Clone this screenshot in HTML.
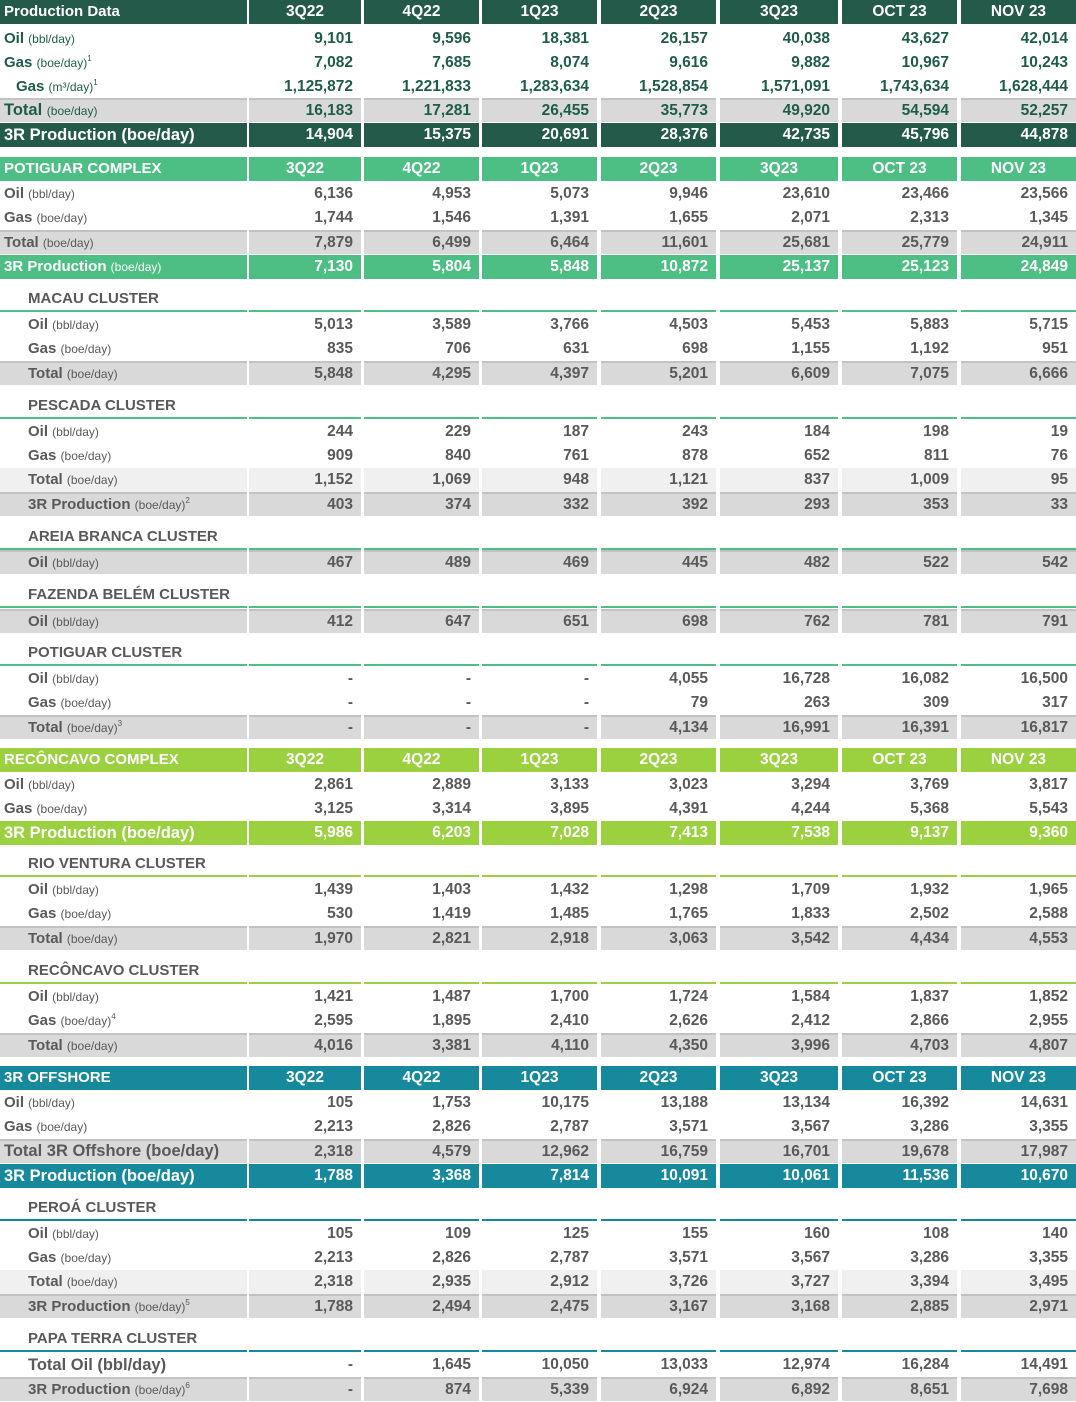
<!DOCTYPE html>
<html><head><meta charset="utf-8"><style>
body{margin:0;width:1076px;height:1402px;background:#fff;font-family:"Liberation Sans",sans-serif;position:relative;overflow:hidden}
.r{position:absolute;left:0;width:1076px;height:24px;display:grid;grid-template-columns:247px 2px 112px 3px 115px 3px 115px 4px 115px 4px 118px 4px 115px 4px 115px;color:#595959;font-weight:bold;font-size:15.5px}
.r>div{line-height:24px;height:24px;box-sizing:border-box;text-align:right;padding-right:8px;white-space:nowrap;overflow:hidden}
.r>div:nth-child(1){grid-column:1;text-align:left;padding-left:4px;font-size:15px}
.r>div:nth-child(2){grid-column:3}.r>div:nth-child(3){grid-column:5}.r>div:nth-child(4){grid-column:7}
.r>div:nth-child(5){grid-column:9}.r>div:nth-child(6){grid-column:11}.r>div:nth-child(7){grid-column:13}.r>div:nth-child(8){grid-column:15}
.r small{font-size:12px;font-weight:normal}
.r sup{font-size:8px;font-weight:normal;line-height:0;vertical-align:6px}
.r.i>div:nth-child(1){padding-left:28px}
.dk{color:#1e5c4a}
.h>div{color:#fff;text-align:center;padding-right:0}
.r.h>div:nth-child(1){text-align:left}
.hd>div{background:#245a4a}.hg>div{background:#4dbf85}.hl>div{background:#9bd03f}.ht>div{background:#168a9c}
.g>div{background:#d9d9d9;border-top:2px solid #c2c2c2;line-height:21px}
.lg>div{background:#f0f0f0}
.r.big>div:nth-child(1){font-size:16.5px}
.t>div{border-bottom:2px solid #4dbf85;line-height:22px}
.r.t>div:nth-child(1){padding-left:28px}
.t.l>div{border-bottom-color:#9bd03f}.t.c>div{border-bottom-color:#168a9c}
.w>div{color:#fff}
</style></head><body>

<div class="r h hd" style="top:0"><div>Production Data</div><div>3Q22</div><div>4Q22</div><div>1Q23</div><div>2Q23</div><div>3Q23</div><div>OCT 23</div><div>NOV 23</div></div>
<div class="r dk" style="top:27px"><div>Oil <small>(bbl/day)</small></div><div>9,101</div><div>9,596</div><div>18,381</div><div>26,157</div><div>40,038</div><div>43,627</div><div>42,014</div></div>
<div class="r dk" style="top:51px"><div>Gas <small>(boe/day)<sup>1</sup></small></div><div>7,082</div><div>7,685</div><div>8,074</div><div>9,616</div><div>9,882</div><div>10,967</div><div>10,243</div></div>
<div class="r dk" style="top:75px"><div style="padding-left:16px">Gas <small>(m³/day)<sup>1</sup></small></div><div>1,125,872</div><div>1,221,833</div><div>1,283,634</div><div>1,528,854</div><div>1,571,091</div><div>1,743,634</div><div>1,628,444</div></div>
<div class="r dk g big" style="top:98px"><div>Total <small>(boe/day)</small></div><div>16,183</div><div>17,281</div><div>26,455</div><div>35,773</div><div>49,920</div><div>54,594</div><div>52,257</div></div>
<div class="r hd w big" style="top:123px"><div>3R Production (boe/day)</div><div>14,904</div><div>15,375</div><div>20,691</div><div>28,376</div><div>42,735</div><div>45,796</div><div>44,878</div></div>

<div class="r h hg" style="top:157px"><div>POTIGUAR COMPLEX</div><div>3Q22</div><div>4Q22</div><div>1Q23</div><div>2Q23</div><div>3Q23</div><div>OCT 23</div><div>NOV 23</div></div>
<div class="r" style="top:182px"><div>Oil <small>(bbl/day)</small></div><div>6,136</div><div>4,953</div><div>5,073</div><div>9,946</div><div>23,610</div><div>23,466</div><div>23,566</div></div>
<div class="r" style="top:206px"><div>Gas <small>(boe/day)</small></div><div>1,744</div><div>1,546</div><div>1,391</div><div>1,655</div><div>2,071</div><div>2,313</div><div>1,345</div></div>
<div class="r g" style="top:230px"><div>Total <small>(boe/day)</small></div><div>7,879</div><div>6,499</div><div>6,464</div><div>11,601</div><div>25,681</div><div>25,779</div><div>24,911</div></div>
<div class="r hg w" style="top:255px"><div>3R Production <small>(boe/day)</small></div><div>7,130</div><div>5,804</div><div>5,848</div><div>10,872</div><div>25,137</div><div>25,123</div><div>24,849</div></div>

<div class="r t" style="top:288px"><div>MACAU CLUSTER</div><div></div><div></div><div></div><div></div><div></div><div></div><div></div></div>
<div class="r i" style="top:313px"><div>Oil <small>(bbl/day)</small></div><div>5,013</div><div>3,589</div><div>3,766</div><div>4,503</div><div>5,453</div><div>5,883</div><div>5,715</div></div>
<div class="r i" style="top:337px"><div>Gas <small>(boe/day)</small></div><div>835</div><div>706</div><div>631</div><div>698</div><div>1,155</div><div>1,192</div><div>951</div></div>
<div class="r i g" style="top:361px"><div>Total <small>(boe/day)</small></div><div>5,848</div><div>4,295</div><div>4,397</div><div>5,201</div><div>6,609</div><div>7,075</div><div>6,666</div></div>

<div class="r t" style="top:395px"><div>PESCADA CLUSTER</div><div></div><div></div><div></div><div></div><div></div><div></div><div></div></div>
<div class="r i" style="top:420px"><div>Oil <small>(bbl/day)</small></div><div>244</div><div>229</div><div>187</div><div>243</div><div>184</div><div>198</div><div>19</div></div>
<div class="r i" style="top:444px"><div>Gas <small>(boe/day)</small></div><div>909</div><div>840</div><div>761</div><div>878</div><div>652</div><div>811</div><div>76</div></div>
<div class="r i lg" style="top:468px"><div>Total <small>(boe/day)</small></div><div>1,152</div><div>1,069</div><div>948</div><div>1,121</div><div>837</div><div>1,009</div><div>95</div></div>
<div class="r i g" style="top:492px"><div>3R Production <small>(boe/day)<sup>2</sup></small></div><div>403</div><div>374</div><div>332</div><div>392</div><div>293</div><div>353</div><div>33</div></div>

<div class="r t" style="top:526px"><div>AREIA BRANCA CLUSTER</div><div></div><div></div><div></div><div></div><div></div><div></div><div></div></div>
<div class="r i g" style="top:550px"><div>Oil <small>(bbl/day)</small></div><div>467</div><div>489</div><div>469</div><div>445</div><div>482</div><div>522</div><div>542</div></div>

<div class="r t" style="top:584px"><div>FAZENDA BELÉM CLUSTER</div><div></div><div></div><div></div><div></div><div></div><div></div><div></div></div>
<div class="r i g" style="top:609px"><div>Oil <small>(bbl/day)</small></div><div>412</div><div>647</div><div>651</div><div>698</div><div>762</div><div>781</div><div>791</div></div>

<div class="r t" style="top:642px"><div>POTIGUAR CLUSTER</div><div></div><div></div><div></div><div></div><div></div><div></div><div></div></div>
<div class="r i" style="top:667px"><div>Oil <small>(bbl/day)</small></div><div>-</div><div>-</div><div>-</div><div>4,055</div><div>16,728</div><div>16,082</div><div>16,500</div></div>
<div class="r i" style="top:691px"><div>Gas <small>(boe/day)</small></div><div>-</div><div>-</div><div>-</div><div>79</div><div>263</div><div>309</div><div>317</div></div>
<div class="r i g" style="top:715px"><div>Total <small>(boe/day)<sup>3</sup></small></div><div>-</div><div>-</div><div>-</div><div>4,134</div><div>16,991</div><div>16,391</div><div>16,817</div></div>

<div class="r h hl" style="top:748px"><div>RECÔNCAVO COMPLEX</div><div>3Q22</div><div>4Q22</div><div>1Q23</div><div>2Q23</div><div>3Q23</div><div>OCT 23</div><div>NOV 23</div></div>
<div class="r" style="top:773px"><div>Oil <small>(bbl/day)</small></div><div>2,861</div><div>2,889</div><div>3,133</div><div>3,023</div><div>3,294</div><div>3,769</div><div>3,817</div></div>
<div class="r" style="top:797px"><div>Gas <small>(boe/day)</small></div><div>3,125</div><div>3,314</div><div>3,895</div><div>4,391</div><div>4,244</div><div>5,368</div><div>5,543</div></div>
<div class="r hl w big" style="top:821px"><div>3R Production (boe/day)</div><div>5,986</div><div>6,203</div><div>7,028</div><div>7,413</div><div>7,538</div><div>9,137</div><div>9,360</div></div>

<div class="r t l" style="top:853px"><div>RIO VENTURA CLUSTER</div><div></div><div></div><div></div><div></div><div></div><div></div><div></div></div>
<div class="r i" style="top:878px"><div>Oil <small>(bbl/day)</small></div><div>1,439</div><div>1,403</div><div>1,432</div><div>1,298</div><div>1,709</div><div>1,932</div><div>1,965</div></div>
<div class="r i" style="top:902px"><div>Gas <small>(boe/day)</small></div><div>530</div><div>1,419</div><div>1,485</div><div>1,765</div><div>1,833</div><div>2,502</div><div>2,588</div></div>
<div class="r i g" style="top:926px"><div>Total <small>(boe/day)</small></div><div>1,970</div><div>2,821</div><div>2,918</div><div>3,063</div><div>3,542</div><div>4,434</div><div>4,553</div></div>

<div class="r t l" style="top:960px"><div>RECÔNCAVO CLUSTER</div><div></div><div></div><div></div><div></div><div></div><div></div><div></div></div>
<div class="r i" style="top:985px"><div>Oil <small>(bbl/day)</small></div><div>1,421</div><div>1,487</div><div>1,700</div><div>1,724</div><div>1,584</div><div>1,837</div><div>1,852</div></div>
<div class="r i" style="top:1009px"><div>Gas <small>(boe/day)<sup>4</sup></small></div><div>2,595</div><div>1,895</div><div>2,410</div><div>2,626</div><div>2,412</div><div>2,866</div><div>2,955</div></div>
<div class="r i g" style="top:1033px"><div>Total <small>(boe/day)</small></div><div>4,016</div><div>3,381</div><div>4,110</div><div>4,350</div><div>3,996</div><div>4,703</div><div>4,807</div></div>

<div class="r h ht" style="top:1066px"><div>3R OFFSHORE</div><div>3Q22</div><div>4Q22</div><div>1Q23</div><div>2Q23</div><div>3Q23</div><div>OCT 23</div><div>NOV 23</div></div>
<div class="r" style="top:1091px"><div>Oil <small>(bbl/day)</small></div><div>105</div><div>1,753</div><div>10,175</div><div>13,188</div><div>13,134</div><div>16,392</div><div>14,631</div></div>
<div class="r" style="top:1115px"><div>Gas <small>(boe/day)</small></div><div>2,213</div><div>2,826</div><div>2,787</div><div>3,571</div><div>3,567</div><div>3,286</div><div>3,355</div></div>
<div class="r g big" style="top:1139px"><div>Total 3R Offshore (boe/day)</div><div>2,318</div><div>4,579</div><div>12,962</div><div>16,759</div><div>16,701</div><div>19,678</div><div>17,987</div></div>
<div class="r ht w big" style="top:1164px"><div>3R Production (boe/day)</div><div>1,788</div><div>3,368</div><div>7,814</div><div>10,091</div><div>10,061</div><div>11,536</div><div>10,670</div></div>

<div class="r t c" style="top:1197px"><div>PEROÁ CLUSTER</div><div></div><div></div><div></div><div></div><div></div><div></div><div></div></div>
<div class="r i" style="top:1222px"><div>Oil <small>(bbl/day)</small></div><div>105</div><div>109</div><div>125</div><div>155</div><div>160</div><div>108</div><div>140</div></div>
<div class="r i" style="top:1246px"><div>Gas <small>(boe/day)</small></div><div>2,213</div><div>2,826</div><div>2,787</div><div>3,571</div><div>3,567</div><div>3,286</div><div>3,355</div></div>
<div class="r i lg" style="top:1270px"><div>Total <small>(boe/day)</small></div><div>2,318</div><div>2,935</div><div>2,912</div><div>3,726</div><div>3,727</div><div>3,394</div><div>3,495</div></div>
<div class="r i g" style="top:1294px"><div>3R Production <small>(boe/day)<sup>5</sup></small></div><div>1,788</div><div>2,494</div><div>2,475</div><div>3,167</div><div>3,168</div><div>2,885</div><div>2,971</div></div>

<div class="r t c" style="top:1328px"><div>PAPA TERRA CLUSTER</div><div></div><div></div><div></div><div></div><div></div><div></div><div></div></div>
<div class="r i big" style="top:1353px"><div>Total Oil (bbl/day)</div><div>-</div><div>1,645</div><div>10,050</div><div>13,033</div><div>12,974</div><div>16,284</div><div>14,491</div></div>
<div class="r i g" style="top:1377px"><div>3R Production <small>(boe/day)<sup>6</sup></small></div><div>-</div><div>874</div><div>5,339</div><div>6,924</div><div>6,892</div><div>8,651</div><div>7,698</div></div>

</body></html>
